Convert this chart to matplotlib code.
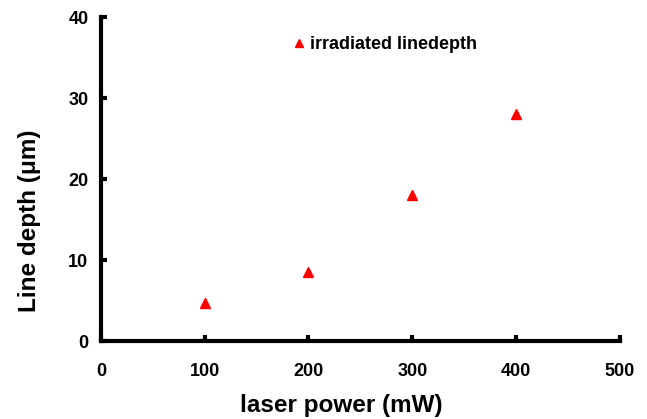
import matplotlib
matplotlib.use('Agg')
import matplotlib.pyplot as plt

# data
laser_power = [100, 200, 300, 400]
line_depth = [4.7, 8.5, 18.1, 28.1]
x_ticks = [0, 100, 200, 300, 400, 500]
y_ticks = [0, 10, 20, 30, 40]

plt.rcParams['font.family'] = ['Liberation Sans', 'DejaVu Sans']

fig = plt.figure(figsize=(6.47, 4.19), dpi=100)
ax = fig.add_axes([0.156, 0.186, 0.802, 0.773])

ax.plot(laser_power, line_depth, linestyle='none', marker='^', color='red',
        markersize=7.5, label='irradiated linedepth', clip_on=False)

ax.set_xlim(0, 500)
ax.set_ylim(0, 40)
ax.set_xticks(x_ticks)
ax.set_yticks(y_ticks)

for side in ['top', 'right']:
    ax.spines[side].set_visible(False)
for side in ['left', 'bottom']:
    ax.spines[side].set_linewidth(3)

ax.tick_params(direction='in', length=4, width=3, labelsize=13)
ax.tick_params(axis='x', pad=16)
ax.tick_params(axis='y', pad=9)
for lbl in ax.get_xticklabels() + ax.get_yticklabels():
    lbl.set_fontweight('bold')

ax.set_xlabel('laser power (mW)', fontsize=17.5, fontweight='bold', va='center')
ax.set_ylabel('Line depth (μm)', fontsize=17.5, fontweight='bold', va='center')
ax.xaxis.set_label_coords(0.464, -0.198)
ax.yaxis.set_label_coords(-0.137, 0.37)

ax.legend(loc='upper left', bbox_to_anchor=(0.333, 0.992), frameon=False,
          handletextpad=0.1, handlelength=1.0, markerscale=0.8,
          prop={'weight': 'bold', 'size': 13})

fig.savefig('out.png', dpi=100)
